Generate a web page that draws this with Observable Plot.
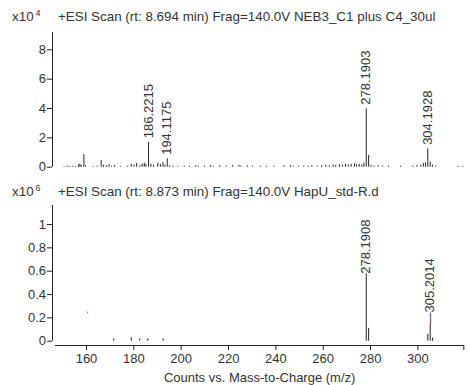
<!DOCTYPE html>
<html>
<head>
<meta charset="utf-8">
<script src="https://cdn.jsdelivr.net/npm/d3@7"></script>
<script src="https://cdn.jsdelivr.net/npm/@observablehq/plot@0.6"></script>
<style>
  html, body { margin: 0; padding: 0; background: #fff; }
  #chart { position: relative; width: 470px; height: 385px; overflow: hidden;
           font-family: "Liberation Sans", Arial, sans-serif; color: #333; }
  .t { position: absolute; font-size: 13.4px; line-height: 13px; white-space: nowrap; }
  .t sup { font-size: 9px; vertical-align: 5px; margin-left: 2px; line-height: 0; }
  #chart svg { position: absolute; left: 0; }
</style>
</head>
<body>
<div id="chart">
  <div class="t" id="mag1" style="left:12px;top:10px"></div>
  <div class="t" id="title1" style="left:58px;top:10px"></div>
  <div class="t" id="mag2" style="left:12px;top:185px"></div>
  <div class="t" id="title2" style="left:58px;top:185px"></div>
</div>
<script>
// ---------- data ----------
const title1 = "+ESI Scan (rt: 8.694 min) Frag=140.0V NEB3_C1 plus C4_30ul";
const title2 = "+ESI Scan (rt: 8.873 min) Frag=140.0V HapU_std-R.d";
const exp1 = 4;
const exp2 = 6;
const xLabel = "Counts vs. Mass-to-Charge (m/z)";
const xTicks = [160, 180, 200, 220, 240, 260, 280, 300];
const yTicks1 = [0, 2, 4, 6, 8];
const yTicks2 = [0, 0.2, 0.4, 0.6, 0.8, 1];
const xDomain = [146.9, 319.4];
const yMax1 = 9.18;
const yMax2 = 1.163;

// top spectrum (x10^4 counts)
const mz1 = [150.5,151.8,152.9,154.1,155.3,156.6,157.2,157.8,158.9,159.6,
  162.8,164.5,166.2,167.2,168.4,169.5,170.6,171.8,
  174.5,177.4,178.9,180.1,181.2,182.6,183.5,184.4,185.1,186.2215,187.2,188.3,
  190.1,191.2,192.3,193.1,194.1175,195.1,196.5,198.6,201.3,203.5,206.1,207.2,209.8,
  212.4,213.5,216.3,219.0,221.7,224.4,225.3,227.9,230.1,
  233.6,236.0,239.2,243.4,246.2,247.3,249.5,
  251.8,253.6,255.2,257.4,259.3,261.1,262.6,264.2,265.3,266.9,268.1,269.4,270.6,
  271.8,273.2,274.1,275.2,276.3,277.2,278.1903,279.19,280.2,281.5,283.2,285.1,
  287.6,292.7,297.9,299.6,301.2,302.3,303.2,304.1928,305.2,306.2,307.6,316.9,319.0];
const int1 = [0.06,0.08,0.05,0.07,0.05,0.15,0.22,0.12,0.85,0.10,
  0.06,0.08,0.45,0.14,0.10,0.18,0.08,0.12,
  0.06,0.08,0.20,0.15,0.25,0.10,0.20,0.28,0.18,1.70,0.20,0.14,
  0.25,0.18,0.30,0.14,0.57,0.10,0.07,0.06,0.08,0.06,0.10,0.07,0.08,
  0.12,0.07,0.10,0.08,0.11,0.14,0.08,0.10,0.07,
  0.07,0.06,0.08,0.10,0.12,0.07,0.08,
  0.08,0.07,0.11,0.08,0.10,0.14,0.10,0.15,0.12,0.17,0.14,0.20,0.15,
  0.20,0.24,0.17,0.20,0.14,0.28,3.98,0.80,0.14,0.08,0.10,0.07,
  0.08,0.07,0.08,0.12,0.14,0.25,0.30,1.25,0.35,0.14,0.08,0.06,0.07];
const labels1 = ["186.2215", "194.1175", "278.1903", "304.1928"];

// bottom spectrum (x10^6 counts)
const mz2 = [171.5, 178.9, 182.5, 185.9, 192.4, 278.1908, 279.19, 304.2, 305.2014, 306.2];
const int2 = [0.02, 0.03, 0.02, 0.02, 0.02, 0.578, 0.11, 0.06, 0.135, 0.025];
const labels2 = ["278.1908", "305.2014"];
const strayMz = [160.5];
const strayLo = [0.236];
const strayHi = [0.250];

// ---------- build ----------
const font = '"Liberation Sans", Arial, sans-serif';
const ink = "#333";
const line = "#222";

document.getElementById("mag1").innerHTML = "x10<sup>" + exp1 + "</sup>";
document.getElementById("mag2").innerHTML = "x10<sup>" + exp2 + "</sup>";
document.getElementById("title1").textContent = title1;
document.getElementById("title2").textContent = title2;

const peaks1 = mz1.map((m, i) => ({mz: m, v: int1[i]}));
const peaks2 = mz2.map((m, i) => ({mz: m, v: int2[i]}));
const lab1 = peaks1.filter(d => labels1.includes(d.mz.toFixed(4)));
const lab2 = peaks2.filter(d => labels2.includes(d.mz.toFixed(4)));
const stray = strayMz.map((m, i) => ({mz: m, lo: strayLo[i], hi: strayHi[i]}));

const common = {
  width: 470,
  marginLeft: 55,
  marginRight: 6.7,
  style: {fontFamily: font, fontSize: "13px", color: ink, background: "transparent", overflow: "visible"}
};

const plotTop = Plot.plot({
  ...common,
  height: 175,
  marginTop: 32,
  marginBottom: 8.3,
  x: {domain: xDomain, axis: null},
  y: {domain: [0, yMax1], axis: null},
  marks: [
    Plot.ruleX([xDomain[0]], {x: d => d, y1: 0, y2: yMax1, dx: -3, stroke: line}),
    Plot.axisY({ticks: yTicks1, tickFormat: d => String(d), tickSize: 5, tickPadding: 1.5, dx: -3, label: null, stroke: line}),
    Plot.ruleX(peaks1, {x: "mz", y1: 0, y2: "v", stroke: line, strokeWidth: 1}),
    Plot.text(lab1, {x: "mz", y: "v", text: d => d.mz.toFixed(4), rotate: -90, textAnchor: "start",
      lineAnchor: "middle", dy: -4, fill: ink, fontSize: 13})
  ]
});
plotTop.style.top = "0px";

const yMin2 = -0.0368;
const plotBottom = Plot.plot({
  ...common,
  height: 210,
  marginTop: 30,
  marginBottom: 40,
  x: {domain: xDomain, axis: null},
  y: {domain: [yMin2, yMax2], axis: null},
  marks: [
    Plot.ruleX([xDomain[0]], {x: d => d, y1: 0, y2: yMax2, dx: -3, stroke: line}),
    Plot.axisY({ticks: yTicks2, tickFormat: d => String(d), tickSize: 5, tickPadding: 1.5, dx: -3, label: null, stroke: line}),
    Plot.ruleY([yMin2], {x1: xDomain[0], x2: xDomain[1], stroke: line}),
    Plot.axisX({ticks: [...xTicks, xDomain[1]], tickFormat: d => xTicks.includes(d) ? String(d) : "",
      tickSize: 5, tickPadding: 3, label: null, stroke: line}),
    Plot.ruleX(peaks2, {x: "mz", y1: 0, y2: "v", stroke: line, strokeWidth: 1}),
    Plot.ruleX(stray, {x: "mz", y1: "lo", y2: "hi", stroke: "#777", strokeWidth: 1}),
    Plot.text(lab2, {x: "mz", y: "v", text: d => (d.v < 0.3 ? "\u2014" : "") + d.mz.toFixed(4), rotate: -90,
      textAnchor: "start", lineAnchor: "middle", fill: ink, fontSize: 13}),
    Plot.text([xLabel], {frameAnchor: "bottom", dy: 32, lineAnchor: "middle", text: d => d, fill: ink, fontSize: 13})
  ]
});
plotBottom.style.top = "175px";

const chart = document.getElementById("chart");
chart.appendChild(plotTop);
chart.appendChild(plotBottom);
</script>
</body>
</html>
